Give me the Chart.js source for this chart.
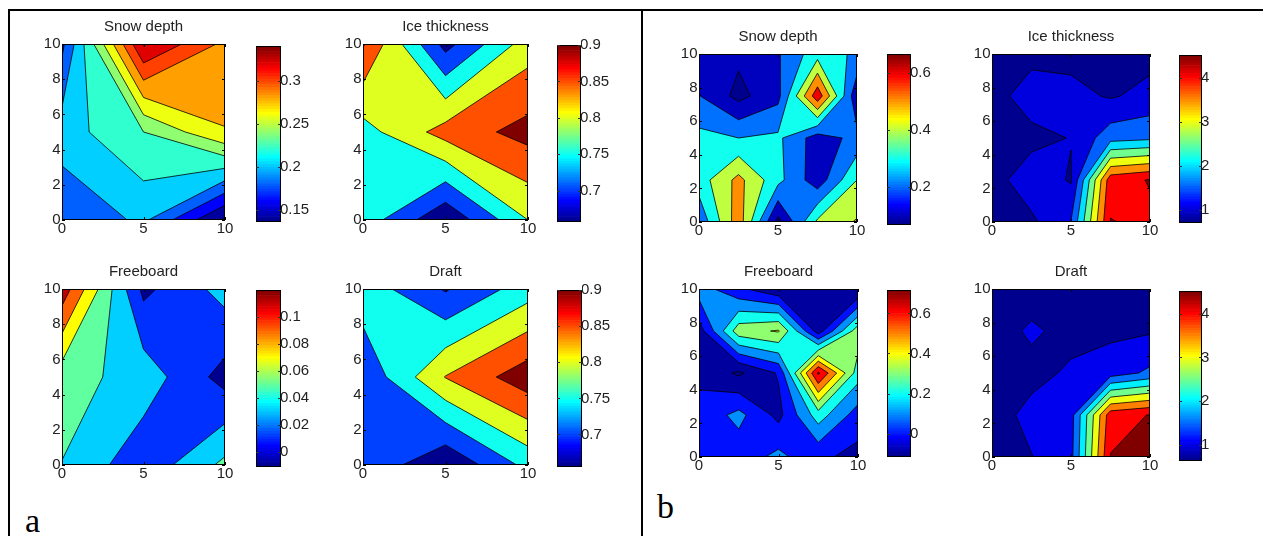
<!DOCTYPE html>
<html>
<head>
<meta charset="utf-8">
<script src="https://cdn.jsdelivr.net/npm/chart.js@4.4.1/dist/chart.umd.min.js"></script>
<style>
  html, body { margin: 0; padding: 0; background: #fff; }
  body { width: 1263px; height: 536px; position: relative; overflow: hidden; }
  canvas { position: absolute; }
  .rule { position: absolute; background: #000; }
  .tag { position: absolute; font-family: "Liberation Serif", "DejaVu Serif", serif; font-size: 34px; line-height: 1; color: #000; }
</style>
</head>
<body>
<div class="rule" style="left:8px;top:9px;width:1255px;height:2px"></div>
<div class="rule" style="left:8px;top:9px;width:2px;height:527px"></div>
<div class="rule" style="left:641px;top:9px;width:2px;height:527px"></div>
<div class="tag" style="left:25px;top:504px">a</div>
<div class="tag" style="left:657px;top:490px">b</div>

<script>
// ---- grid nodes ----
const coarseNodes = [0, 5, 10];
const fineNodes = [0, 2.5, 5, 7.5, 10];
const xTickValues = [0, 5, 10];
const yTickValues = [0, 2, 4, 6, 8, 10];
const titles = ['Snow depth', 'Ice thickness', 'Freeboard', 'Draft'];

// ---- (a) fields, one row per y node (bottom row first) ----
const snowDepthA = [
  [0.184, 0.204, 0.136],
  [0.210, 0.240, 0.279],
  [0.175, 0.342, 0.295]
];
const iceThicknessA = [
  [0.779, 0.657, 0.800],
  [0.780, 0.871, 0.918],
  [0.905, 0.682, 0.825]
];
const freeboardA = [
  [0.0495, 0.0159, 0.055],
  [0.0585, 0.0415, 0.002],
  [0.122, 0.005, 0.0377]
];
const draftA = [
  [0.741, 0.655, 0.765],
  [0.710, 0.852, 0.930],
  [0.780, 0.695, 0.776]
];

// ---- (b) fields ----
const snowDepthB = [
  [0.22, 0.56, 0.065, 0.42, 0.51],
  [0.35, 0.53, 0.33, 0.14, 0.40],
  [0.33, 0.30, 0.32, 0.15, 0.23],
  [0.204, 0.07, 0.17, 0.667, 0.12],
  [0.17, 0.12, 0.19, 0.36, 0.28]
];
const iceThicknessB = [
  [0.75, 0.90, 1.52, 4.52, 4.40],
  [0.80, 1.30, 0.95, 4.30, 4.53],
  [0.75, 0.85, 1.02, 1.80, 1.90],
  [0.80, 1.25, 1.15, 0.95, 1.15],
  [0.70, 0.85, 0.85, 0.80, 0.85]
];
const freeboardB = [
  [0.02, 0.04, 0.13, 0.02, -0.03],
  [0.03, 0.13, -0.03, 0.25, 0.05],
  [-0.02, -0.117, 0.01, 0.717, 0.25],
  [-0.05, 0.36, 0.41, -0.05, 0.36],
  [0.15, 0.02, -0.08, -0.10, -0.10]
];
const draftB = [
  [0.63, 0.98, 1.35, 4.52, 4.52],
  [0.70, 1.20, 1.30, 4.30, 4.52],
  [0.66, 0.80, 1.10, 1.25, 1.60],
  [0.70, 1.10, 0.80, 0.90, 0.95],
  [0.68, 0.70, 0.72, 0.75, 0.72]
];

// ---- contour levels ----
const levelsSnowA = [0.14, 0.16, 0.18, 0.20, 0.22, 0.24, 0.26, 0.28, 0.30, 0.32, 0.34];
const levelsIceA = [0.70, 0.75, 0.80, 0.85, 0.90];
const levelsFreeboardA = [0.01, 0.03, 0.05, 0.07, 0.09, 0.11];
const levelsDraftA = [0.70, 0.75, 0.80, 0.85, 0.90];
const levelsSnowB = [0.1, 0.2, 0.3, 0.4, 0.5, 0.6];
const levelsIceB = [1, 1.5, 2, 2.5, 3, 3.5, 4, 4.5];
const levelsFreeboardB = [-0.1, 0, 0.1, 0.2, 0.3, 0.4, 0.5, 0.6, 0.7];
const levelsDraftB = [1, 1.5, 2, 2.5, 3, 3.5, 4, 4.5];

// ---- colour limits ----
const climSnowA = [0.136, 0.34];
const climIceA = [0.657, 0.9];
const climFreeboardA = [-0.011, 0.12];
const climDraftA = [0.655, 0.9];
const climSnowB = [0.065, 0.667];
const climIceB = [0.70, 4.53];
const climFreeboardB = [-0.117, 0.717];
const climDraftB = [0.63, 4.52];

// ---- colourbar tick labels ----
const cbTicksSnowA = [0.15, 0.2, 0.25, 0.3];
const cbTicksIceA = [0.7, 0.75, 0.8, 0.85, 0.9];
const cbTicksFreeboardA = [0, 0.02, 0.04, 0.06, 0.08, 0.1];
const cbTicksDraftA = [0.7, 0.75, 0.8, 0.85, 0.9];
const cbTicksSnowB = [0.2, 0.4, 0.6];
const cbTicksIceB = [1, 2, 3, 4];
const cbTicksFreeboardB = [0, 0.2, 0.4, 0.6];
const cbTicksDraftB = [1, 2, 3, 4];

// ---- jet colormap (64 entries) ----
function jetMap(m) {
  const n = Math.ceil(m / 4);
  const u = [];
  for (let i = 1; i <= n; i++) u.push(i / n);
  for (let i = 1; i < n; i++) u.push(1);
  for (let i = n; i >= 1; i--) u.push(i / n);
  const off = Math.ceil(n / 2) - (m % 4 === 1 ? 1 : 0);
  const J = Array.from({ length: m }, () => [0, 0, 0]);
  for (let k = 0; k < u.length; k++) {
    const g = off + k + 1, r = g + n, b = g - n;
    if (r >= 1 && r <= m) J[r - 1][0] = u[k];
    if (g >= 1 && g <= m) J[g - 1][1] = u[k];
    if (b >= 1 && b <= m) J[b - 1][2] = u[k];
  }
  return J;
}
const JET = jetMap(64);
const rgb = c => `rgb(${Math.round(c[0] * 255)},${Math.round(c[1] * 255)},${Math.round(c[2] * 255)})`;
function colourOf(v, clim) {
  let i = Math.floor((v - clim[0]) / (clim[1] - clim[0]) * JET.length);
  i = Math.max(0, Math.min(JET.length - 1, i));
  return rgb(JET[i]);
}

const FONT = '"Liberation Sans", Arial, Helvetica, sans-serif';
const TEXT = '#222';
const fmt = v => String(parseFloat(Number(v).toFixed(4)));

// Part of one grid cell at or above level L (edge-linear marching squares).
// Returns the fill polygons and the iso-line segments that bound them.
function cellAbove(c, L) {
  const hi = c.map(p => p[2] >= L);
  const pts = [];
  for (let k = 0; k < 4; k++) {
    const P = c[k], Q = c[(k + 1) % 4];
    if (hi[k]) pts.push({ x: P[0], y: P[1], f: 0 });
    if (hi[k] !== hi[(k + 1) % 4]) {
      const t = (L - P[2]) / (Q[2] - P[2]);
      pts.push({ x: P[0] + t * (Q[0] - P[0]), y: P[1] + t * (Q[1] - P[1]), f: hi[k] ? 1 : 2 });
    }
  }
  if (pts.length < 3) return { polys: [], segs: [] };
  const saddle = hi[0] === hi[2] && hi[1] === hi[3] && hi[0] !== hi[1];
  const mean = (c[0][2] + c[1][2] + c[2][2] + c[3][2]) / 4;
  if (saddle && mean < L) {
    // two separate corner pieces
    const polys = [], segs = [];
    const n = pts.length;
    for (let s = 0; s < n; s++) {
      if (pts[s].f !== 2) continue;
      const g = [pts[s]];
      let m = (s + 1) % n;
      while (pts[m].f !== 1) { g.push(pts[m]); m = (m + 1) % n; }
      g.push(pts[m]);
      polys.push(g);
      segs.push([pts[m], pts[s]]);
    }
    return { polys, segs };
  }
  const segs = [];
  for (let m = 0; m < pts.length; m++) {
    const p = pts[m], q = pts[(m + 1) % pts.length];
    if (p.f === 1 && q.f === 2) segs.push([p, q]);
  }
  return { polys: [pts], segs };
}

// Filled contours drawn through the chart's own x / y scales
const contourFill = {
  id: 'contourFill',
  beforeDatasetsDraw(chart, args, opts) {
    const { ctx, chartArea: a, scales: { x, y } } = chart;
    const g = opts.nodes, z = opts.z;
    const px = v => x.getPixelForValue(v), py = v => y.getPixelForValue(v);
    ctx.save();
    ctx.beginPath();
    ctx.rect(a.left, a.top, a.right - a.left, a.bottom - a.top);
    ctx.clip();
    ctx.fillStyle = colourOf(opts.clim[0], opts.clim);
    ctx.fillRect(px(g[0]), py(g[g.length - 1]), px(g[g.length - 1]) - px(g[0]), py(g[0]) - py(g[g.length - 1]));
    const lines = [];
    for (const L of opts.levels) {
      ctx.beginPath();
      for (let j = 0; j < g.length - 1; j++) {
        for (let i = 0; i < g.length - 1; i++) {
          const c = [
            [g[i], g[j], z[j][i]], [g[i + 1], g[j], z[j][i + 1]],
            [g[i + 1], g[j + 1], z[j + 1][i + 1]], [g[i], g[j + 1], z[j + 1][i]]
          ];
          const r = cellAbove(c, L);
          r.polys.forEach(poly => {
            poly.forEach((p, m) => m ? ctx.lineTo(px(p.x), py(p.y)) : ctx.moveTo(px(p.x), py(p.y)));
            ctx.closePath();
          });
          lines.push(...r.segs);
        }
      }
      ctx.fillStyle = colourOf(L, opts.clim);
      ctx.fill();
    }
    ctx.beginPath();
    for (const [p, q] of lines) { ctx.moveTo(px(p.x), py(p.y)); ctx.lineTo(px(q.x), py(q.y)); }
    ctx.strokeStyle = '#000';
    ctx.lineWidth = 0.8;
    ctx.stroke();
    ctx.restore();
  }
};

// Axes box with short inward tick marks
const axesBox = {
  id: 'axesBox',
  afterDatasetsDraw(chart) {
    const { ctx, chartArea: a, scales: { x, y } } = chart;
    ctx.save();
    ctx.strokeStyle = '#000';
    ctx.lineWidth = 1;
    ctx.strokeRect(a.left + 0.5, a.top + 0.5, a.right - a.left - 1, a.bottom - a.top - 1);
    ctx.beginPath();
    xTickValues.forEach(v => {
      const X = Math.round(x.getPixelForValue(v)) + 0.5;
      ctx.moveTo(X, a.bottom); ctx.lineTo(X, a.bottom - 3);
      ctx.moveTo(X, a.top); ctx.lineTo(X, a.top + 3);
    });
    yTickValues.forEach(v => {
      const Y = Math.round(y.getPixelForValue(v)) + 0.5;
      ctx.moveTo(a.left, Y); ctx.lineTo(a.left + 3, Y);
      ctx.moveTo(a.right, Y); ctx.lineTo(a.right - 3, Y);
    });
    ctx.stroke();
    ctx.restore();
  }
};

// Colourbar frame with inward tick marks
const barBox = {
  id: 'barBox',
  afterDatasetsDraw(chart, args, opts) {
    const { ctx, chartArea: a, scales: { y } } = chart;
    ctx.save();
    ctx.strokeStyle = '#000';
    ctx.lineWidth = 1;
    ctx.strokeRect(a.left + 0.5, a.top + 0.5, a.right - a.left - 1, a.bottom - a.top - 1);
    ctx.beginPath();
    opts.ticks.forEach(v => {
      const Y = Math.round(y.getPixelForValue(v)) + 0.5;
      ctx.moveTo(a.left, Y); ctx.lineTo(a.left + 3, Y);
      ctx.moveTo(a.right, Y); ctx.lineTo(a.right - 3, Y);
    });
    ctx.strokeStyle = '#333';
    ctx.stroke();
    ctx.restore();
  }
};

function addCanvas(left, top, w, h) {
  const c = document.createElement('canvas');
  c.width = w; c.height = h;
  c.style.left = left + 'px'; c.style.top = top + 'px';
  c.style.width = w + 'px'; c.style.height = h + 'px';
  document.body.appendChild(c);
  return c;
}

const tickFont = { family: FONT, size: 15 };
const noGrid = () => ({ display: false, drawTicks: false, tickLength: 0 });

function contourChart(box, title, nodes, z, levels, clim) {
  const [L, T, R, B] = box;
  const cv = addCanvas(L - 44, T - 30, (R - L) + 88, (B - T) + 56);
  return new Chart(cv, {
    type: 'scatter',
    data: { datasets: [] },
    options: {
      responsive: false, animation: false, events: [],
      layout: { padding: { top: 4, right: 4, bottom: 4, left: 4 } },
      plugins: {
        legend: { display: false }, tooltip: { enabled: false },
        title: { display: true, text: title, color: TEXT, font: { family: FONT, size: 15, weight: 'normal', lineHeight: 1.2 }, padding: { top: 0, bottom: 8 } },
        contourFill: { nodes, z, levels, clim }
      },
      scales: {
        x: {
          type: 'linear', min: 0, max: 10,
          afterBuildTicks: s => { s.ticks = xTickValues.map(v => ({ value: v })); },
          afterFit: s => { s.height = 22; },
          grid: noGrid(), border: { display: false },
          ticks: { color: TEXT, font: tickFont, padding: 0, maxRotation: 0, autoSkip: false, callback: fmt }
        },
        y: {
          type: 'linear', min: 0, max: 10,
          afterBuildTicks: s => { s.ticks = yTickValues.map(v => ({ value: v })); },
          afterFit: s => { s.width = 40; },
          grid: noGrid(), border: { display: false },
          ticks: { color: TEXT, font: tickFont, padding: 1.5, autoSkip: false, callback: fmt }
        },
        yRight: {
          type: 'linear', position: 'right', min: 0, max: 10,
          afterFit: s => { s.width = 40; },
          grid: noGrid(), border: { display: false },
          ticks: { display: false }
        }
      }
    },
    plugins: [contourFill, axesBox]
  });
}

function colourbarChart(box, clim, ticks) {
  const [L, T, R, B] = box;
  const cv = addCanvas(L, T - 10, (R - L) + 40, (B - T) + 20);
  const step = (clim[1] - clim[0]) / JET.length;
  return new Chart(cv, {
    type: 'bar',
    data: {
      labels: [''],
      datasets: JET.map((c, i) => ({
        data: [[clim[0] + i * step, clim[0] + (i + 1) * step]],
        backgroundColor: rgb(c), borderWidth: 0,
        barPercentage: 1, categoryPercentage: 1, grouped: false
      }))
    },
    options: {
      responsive: false, animation: false, events: [],
      layout: { padding: { top: 10, bottom: 10, left: 0, right: 0 } },
      plugins: { legend: { display: false }, tooltip: { enabled: false }, barBox: { ticks } },
      scales: {
        x: { display: false },
        y: {
          position: 'right', min: clim[0], max: clim[1],
          afterBuildTicks: s => { s.ticks = ticks.map(v => ({ value: v })); },
          afterFit: s => { s.width = 40; },
          grid: noGrid(), border: { display: false },
          ticks: { color: TEXT, font: tickFont, padding: -1, autoSkip: false, callback: fmt }
        }
      }
    },
    plugins: [barBox]
  });
}

// ---- panel (a) ----
contourChart([62, 44, 225, 220], titles[0], coarseNodes, snowDepthA, levelsSnowA, climSnowA);
colourbarChart([256, 46, 281, 222], climSnowA, cbTicksSnowA);
contourChart([363, 44, 528, 220], titles[1], coarseNodes, iceThicknessA, levelsIceA, climIceA);
colourbarChart([557, 45, 581, 222], climIceA, cbTicksIceA);
contourChart([62, 289, 225, 465], titles[2], coarseNodes, freeboardA, levelsFreeboardA, climFreeboardA);
colourbarChart([256, 290, 281, 467], climFreeboardA, cbTicksFreeboardA);
contourChart([363, 289, 528, 465], titles[3], coarseNodes, draftA, levelsDraftA, climDraftA);
colourbarChart([557, 290, 582, 467], climDraftA, cbTicksDraftA);

// ---- panel (b) ----
contourChart([699, 54, 857, 222], titles[0], fineNodes, snowDepthB, levelsSnowB, climSnowB);
colourbarChart([887, 54, 911, 225], climSnowB, cbTicksSnowB);
contourChart([992, 54, 1150, 222], titles[1], fineNodes, iceThicknessB, levelsIceB, climIceB);
colourbarChart([1179, 55, 1202, 223], climIceB, cbTicksIceB);
contourChart([699, 289, 858, 457], titles[2], fineNodes, freeboardB, levelsFreeboardB, climFreeboardB);
colourbarChart([887, 290, 911, 457], climFreeboardB, cbTicksFreeboardB);
contourChart([992, 289, 1150, 457], titles[3], fineNodes, draftB, levelsDraftB, climDraftB);
colourbarChart([1179, 291, 1202, 461], climDraftB, cbTicksDraftB);
</script>
</body>
</html>
